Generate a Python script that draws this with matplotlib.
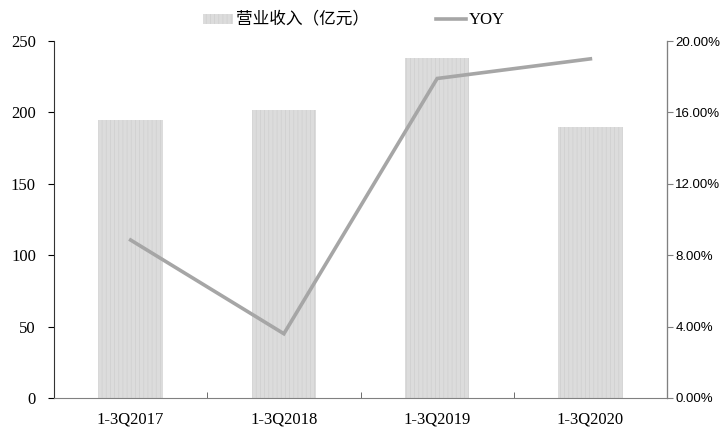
import matplotlib.pyplot as plt
from matplotlib.patches import Patch
from matplotlib.lines import Line2D
from matplotlib.ticker import FixedLocator, PercentFormatter

plt.rcParams['hatch.linewidth'] = 0.5

periods = ['1-3Q2017', '1-3Q2018', '1-3Q2019', '1-3Q2020']
revenue = [195, 202, 238, 190]          # 营业收入（亿元）
yoy = [8.85, 3.6, 17.9, 19.0]           # 同比增速 %

bar_color = '#dcdcdc'
hatch_color = '#cfcfcf'
line_color = '#a6a6a6'

fig = plt.figure(figsize=(7.27, 4.28), dpi=100)
ax = fig.add_axes([0.0743, 0.0701, 0.8432, 0.8341])
ax2 = ax.twinx()

x = range(len(periods))
ax.bar(x, revenue, width=0.42, color=bar_color, edgecolor=hatch_color,
       hatch='||||', linewidth=0, zorder=2)
ax2.plot(x, yoy, color=line_color, linewidth=2.6, solid_joinstyle='miter')

ax.set_xlim(-0.5, len(periods) - 0.5)
ax.set_ylim(0, 250)
ax2.set_ylim(0, 20)
ax.set_yticks(range(0, 251, 50))
ax2.set_yticks(range(0, 21, 4))
ax2.yaxis.set_major_formatter(PercentFormatter(decimals=2))

ax.set_xticks(list(x))
ax.set_xticklabels(periods, fontfamily='Liberation Serif', fontsize=12)
ax.xaxis.set_minor_locator(FixedLocator([0.5, 1.5, 2.5]))
ax.tick_params(axis='x', which='major', length=0, pad=10)
ax.tick_params(axis='x', which='minor', direction='in', length=4, color='#555555')

for lab in ax.get_yticklabels():
    lab.set_fontfamily('Liberation Serif')
    lab.set_fontsize(12)
ax.tick_params(axis='y', length=4, width=0.8, pad=9)
for lab in ax2.get_yticklabels():
    lab.set_fontfamily('Liberation Sans')
    lab.set_fontsize(9.5)
ax2.tick_params(axis='y', length=4, width=0.8, color='#808080', pad=2)

for a in (ax, ax2):
    a.spines['top'].set_visible(False)
ax.spines['left'].set_color('#333333')
ax.spines['bottom'].set_color('#808080')
ax2.spines['left'].set_visible(False)
ax2.spines['bottom'].set_visible(False)
ax2.spines['right'].set_color('#808080')

handles = [Patch(facecolor=bar_color, edgecolor=hatch_color, hatch='||||', linewidth=0),
           Line2D([], [], color=line_color, linewidth=2.6)]
leg = fig.legend(handles, ['营业收入（亿元）', 'YOY'], loc='center', ncol=2,
                 bbox_to_anchor=(0.487, 0.955), frameon=False, columnspacing=4.8,
                 handlelength=2.2, handletextpad=0.2)
leg.get_texts()[0].set_fontfamily(['Noto Sans CJK SC', 'DejaVu Sans'])
leg.get_texts()[0].set_fontsize(12)
leg.get_texts()[1].set_fontfamily('Liberation Serif')
leg.get_texts()[1].set_fontsize(12)

fig.savefig('out.png', dpi=100)
